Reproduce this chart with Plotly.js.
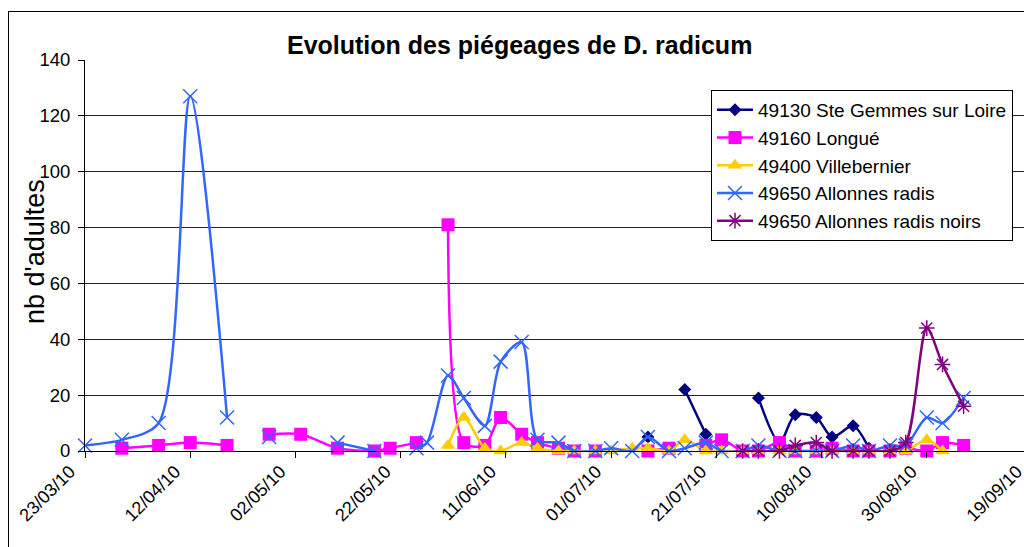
<!DOCTYPE html>
<html>
<head>
<meta charset="utf-8">
<script src="https://cdn.plot.ly/plotly-3.0.1.min.js"></script>
<style>
html, body { margin:0; padding:0; overflow:hidden; background:#fff; width:1024px; height:547px; }
#chart { position:absolute; left:0; top:0; }
#frame { position:absolute; left:8px; top:11px; width:2000px; height:2000px; border:1px solid #000; pointer-events:none; }
</style>
</head>
<body>
<div id="chart"></div>
<div id="frame"></div>
<script>
const dates = ['2010-03-23','2010-03-30','2010-04-06','2010-04-12','2010-04-19','2010-04-23','2010-04-27','2010-05-03','2010-05-10','2010-05-17','2010-05-20','2010-05-25','2010-05-27','2010-05-31','2010-06-03','2010-06-07','2010-06-10','2010-06-14','2010-06-17','2010-06-21','2010-06-24','2010-06-28','2010-07-01','2010-07-05','2010-07-08','2010-07-12','2010-07-15','2010-07-19','2010-07-22','2010-07-26','2010-07-29','2010-08-02','2010-08-05','2010-08-09','2010-08-12','2010-08-16','2010-08-19','2010-08-23','2010-08-26','2010-08-30','2010-09-02','2010-09-06'];

const steGemmes = [null,null,null,null,null,null,null,null,null,null,null,null,null,null,null,null,null,null,null,null,null,null,null,null,5,null,22,6,null,null,19,3,13,12,5,9,1,null,null,null,3,null];
const longue = [null,1,2,3,2,null,6,6,1,0,1,3,null,81,3,2,12,6,3,1,0,0,null,null,0,1,null,2,4,0,0,3,0,0,1,0,0,0,1,0,3,2];
const villebernier = [null,null,null,null,null,null,null,null,null,null,null,null,null,2,12,1,0,3,1,0,0,0,0,1,1,0,4,0,0,0,0,0,0,0,0,0,0,0,0,4,0,null];
const allonnes = [2,4,10,127,12,null,5,null,3,0,null,1,3,27,19,9,32,39,4,3,0,0,1,0,5,0,1,3,0,0,2,0,0,0,0,2,0,2,2,12,10,19];
const allonnesNoirs = [null,null,null,null,null,null,null,null,null,null,null,null,null,null,null,null,null,null,null,null,null,null,null,null,null,null,null,null,null,0,0,0,2,3,0,0,0,0,3,44,31,16];

const seriesNames = ['49130 Ste Gemmes sur Loire','49160 Longué','49400 Villebernier','49650 Allonnes radis','49650 Allonnes radis noirs'];
const seriesValues = [steGemmes, longue, villebernier, allonnes, allonnesNoirs];
const colors = ['#000080','#FF00FF','#FFCC00','#3366FF','#800080'];
const symbols = ['diamond','square','triangle-up','x-thin-open','asterisk-open'];
const sizes = [10,13,13,14,13];

const traces = seriesValues.map((vals, i) => ({
  type:'scatter', mode:'lines+markers',
  x: dates, y: vals, name: seriesNames[i],
  legendgroup: 'g'+i,
  connectgaps:false, cliponaxis:false,
  line:{color:colors[i], width:2.5, shape:'spline', smoothing:0.8},
  marker:{symbol:symbols[i], size:sizes[i], color:colors[i], line:{color:colors[i], width:(i>=3?1.5:0)}}
}));

const layout = {
  width:1060, height:547,
  margin:{l:85, r:28, t:60, b:96},
  paper_bgcolor:'rgba(0,0,0,0)', plot_bgcolor:'#fff',
  font:{family:'Liberation Sans, Arial, sans-serif', color:'#000', size:18},
  title:{text:'<b>Evolution des piégeages de D. radicum</b>', font:{size:25, color:'#000'}, xref:'paper', x:0.459, xanchor:'center', yref:'container', y:1-45/547, yanchor:'middle'},
  showlegend:true,
  legend:{x:(711-85)/947, y:(451-90)/391, xanchor:'left', yanchor:'top', bgcolor:'#fff', bordercolor:'#000', borderwidth:1, font:{size:19}, tracegroupgap:8, traceorder:'normal', itemwidth:36},
  xaxis:{type:'date', range:['2010-03-23','2010-09-19'], tickmode:'linear', tick0:'2010-03-23', dtick:20*86400000, tickformat:'%d/%m/%y', tickangle:-45, ticks:'outside', ticklen:6, tickcolor:'#000', showline:true, linecolor:'#000', linewidth:1, showgrid:false, zeroline:false, tickfont:{size:18}, ticklabelshift:-15, ticklabelstandoff:-4},
  yaxis:{range:[0,140], dtick:20, ticks:'outside', ticklen:6, tickcolor:'#000', showline:true, linecolor:'#000', linewidth:1, showgrid:true, gridcolor:'#222', gridwidth:1, zeroline:false, tickfont:{size:18.5}, ticklabelstandoff:4},
  annotations:[{text:"nb d'adultes", textangle:-90, xref:'paper', yref:'paper', x:(35-85)/947, y:(451-252)/391, xanchor:'center', yanchor:'middle', showarrow:false, font:{size:27, color:'#000'}}]
};

Plotly.newPlot('chart', traces, layout, {displayModeBar:false, staticPlot:true});
</script>
</body>
</html>
